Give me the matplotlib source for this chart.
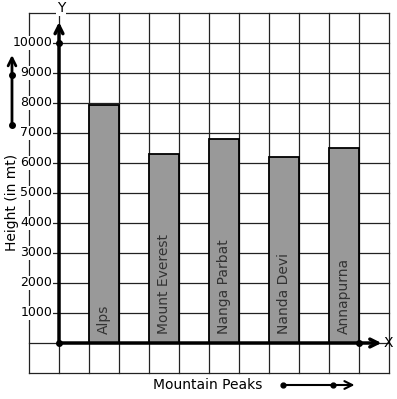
import matplotlib
matplotlib.use('Agg')
import matplotlib.pyplot as plt

peaks = ['Alps', 'Mount Everest', 'Nanga Parbat', 'Nanda Devi', 'Annapurna']
heights = [7930, 6290, 6790, 6190, 6500]
yticks = [1000, 2000, 3000, 4000, 5000, 6000, 7000, 8000, 9000, 10000]


def plot_graph():
    fig = plt.figure(figsize=(3.97, 3.99), dpi=100)
    ax = fig.add_axes([0, 0, 1, 1])
    # 30 px per grid cell, origin at pixel (59, 343)
    ax.set_xlim(-59 / 30, (397 - 59) / 30)
    ax.set_ylim((343 - 399) / 30 * 1000, 343 / 30 * 1000)
    ax.axis('off')

    # grid
    for gx in range(-1, 12):
        ax.plot([gx, gx], [-1000, 11000], color='#222222', lw=0.9, zorder=1)
    for gy in range(-1000, 12000, 1000):
        ax.plot([-1, 11], [gy, gy], color='#222222', lw=0.9, zorder=1)

    # bars
    xs = [1.5 + 2 * i for i in range(len(peaks))]
    ax.bar(xs, heights, width=1, color='#999999', edgecolor='black', lw=1.3, zorder=2)
    for x, name in zip(xs, peaks):
        ax.text(x, 300, name, rotation=90, ha='center', va='bottom',
                fontsize=10, color='#333333', zorder=3)

    # axes with arrows
    ax.annotate('', xy=(0, 10700), xytext=(0, 0),
                arrowprops=dict(arrowstyle='->', lw=2.5, color='black',
                                mutation_scale=14, shrinkA=0, shrinkB=0), zorder=4)
    ax.annotate('', xy=(10.75, 0), xytext=(0, 0),
                arrowprops=dict(arrowstyle='->', lw=2.5, color='black',
                                mutation_scale=14, shrinkA=0, shrinkB=0), zorder=4)
    ax.plot([0, 0, 10], [0, 10000, 0], 'o', color='black', ms=4, zorder=5)

    for t in yticks:
        ax.text(-0.22, t, str(t), ha='right', va='center', fontsize=9,
                zorder=3, bbox=dict(facecolor='white', edgecolor='none', pad=0.5))
    ax.text(0.07, 11170, 'Y', ha='center', va='center', fontsize=10, zorder=3,
            bbox=dict(facecolor='white', edgecolor='none', pad=0.5))
    ax.text(10.97, 0, 'X', ha='center', va='center', fontsize=10, zorder=3)

    # left decoration arrow + label
    ax.annotate('', xy=(-1.567, 9600), xytext=(-1.567, 7270),
                arrowprops=dict(arrowstyle='->', lw=2, color='black',
                                mutation_scale=14, shrinkA=0, shrinkB=0), zorder=4)
    ax.plot([-1.567, -1.567], [7270, 8930], 'o', color='black', ms=4, zorder=5)
    ax.text(-1.567, 4700, 'Height (in mt)', rotation=90, ha='center', va='center',
            fontsize=10, zorder=3)

    # bottom decoration arrow + label
    ax.text(4.97, -1400, 'Mountain Peaks', ha='center', va='center', fontsize=10, zorder=3)
    ax.annotate('', xy=(9.85, -1400), xytext=(7.47, -1400),
                arrowprops=dict(arrowstyle='->', lw=1.5, color='black',
                                mutation_scale=14, shrinkA=0, shrinkB=0), zorder=4)
    ax.plot([7.47, 9.13], [-1400, -1400], 'o', color='black', ms=3.5, zorder=5)

    fig.savefig('out.png', dpi=100)


if __name__ == '__main__':
    plot_graph()
